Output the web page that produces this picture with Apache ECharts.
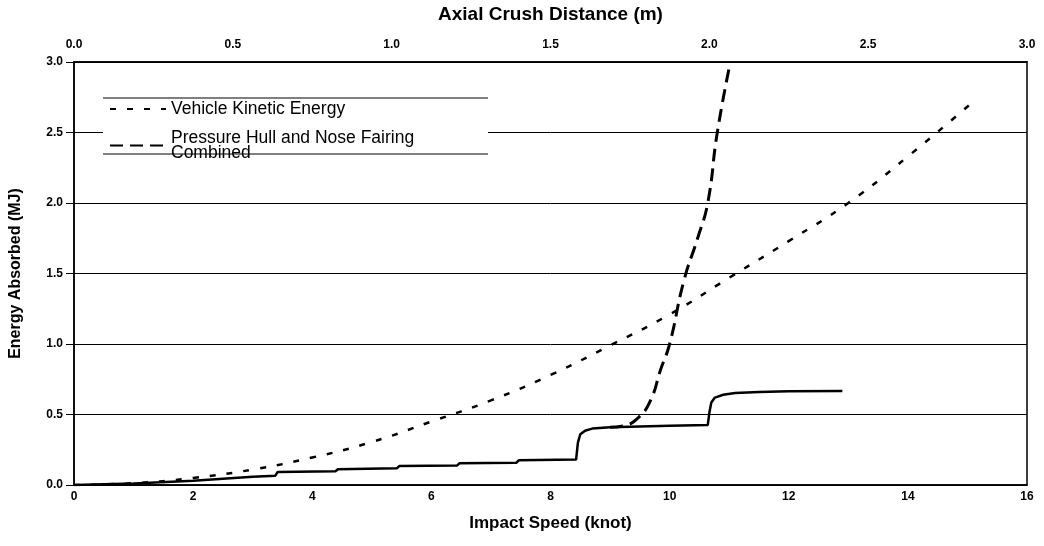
<!DOCTYPE html>
<html>
<head>
<meta charset="utf-8">
<script src="https://cdn.jsdelivr.net/npm/echarts@6/dist/echarts.min.js"></script>
<style>
  html, body { margin: 0; padding: 0; background: #fff; }
  #chart { width: 1044px; height: 546px; }
</style>
</head>
<body>
<div id="chart"></div>
<script>
// vehicle kinetic energy vs impact speed
const keSpeed = [0, 1, 2, 3, 4, 5, 6, 7, 8, 9, 10, 11, 12, 13, 14, 15.1];
const keEnergy = [0, 0.013, 0.05, 0.11, 0.195, 0.305, 0.45, 0.6, 0.78, 0.99, 1.21, 1.47, 1.73, 2.0, 2.33, 2.72];

// pressure hull alone (stepped solid line)
const hullSpeed = [0, 1, 2, 3, 3.38, 3.42, 4.39, 4.43, 5.42, 5.46, 6.43, 6.47, 7.43, 7.47, 8.43, 8.46,
  8.5, 8.58, 8.7, 9.0, 9.5, 10.0, 10.64, 10.67, 10.7, 10.76, 10.9, 11.1, 11.5, 12.0, 12.9];
const hullEnergy = [0, 0.01, 0.03, 0.058, 0.066, 0.093, 0.098, 0.112, 0.118, 0.134, 0.138, 0.154, 0.158, 0.176, 0.18, 0.3,
  0.36, 0.385, 0.4, 0.41, 0.415, 0.42, 0.425, 0.52, 0.585, 0.62, 0.64, 0.652, 0.66, 0.665, 0.667];

// pressure hull and nose fairing combined (departs from the hull curve)
const combSpeed = [9.0, 9.23, 9.48, 9.68, 9.85, 10.0, 10.24, 10.47, 10.64, 10.8, 11.02];
const combEnergy = [0.41, 0.42, 0.48, 0.6, 0.82, 1.0, 1.45, 1.75, 2.0, 2.5, 3.0];

const speedTicks = [0, 16, 2];
const crushTicks = [0, 3, 0.5];
const energyTicks = [0, 3, 0.5];

const pairs = (xs, ys) => xs.map((x, i) => [x, ys[i]]);

const chart = echarts.init(document.getElementById('chart'));
const font = 'Liberation Sans, Arial, sans-serif';
const tickLabel = { color: '#000', fontFamily: font, fontWeight: 'bold', fontSize: 12 };
const axisTitle = { color: '#000', fontFamily: font, fontWeight: 'bold', fontSize: 17 };

chart.setOption({
  backgroundColor: '#fff',
  animation: false,
  grid: { left: 72, right: 17, top: 62, bottom: 61, show: true, borderColor: '#000', borderWidth: 1.5 },
  xAxis: [
    {
      type: 'value', min: speedTicks[0], max: speedTicks[1], interval: speedTicks[2],
      name: 'Impact Speed (knot)', nameLocation: 'middle', nameGap: 30, nameTextStyle: axisTitle,
      axisLine: { lineStyle: { color: '#000', width: 1.5 } },
      axisTick: { show: false },
      axisLabel: { ...tickLabel, margin: 6 },
      splitLine: { show: false }
    },
    {
      type: 'value', position: 'top', min: crushTicks[0], max: crushTicks[1], interval: crushTicks[2],
      name: 'Axial Crush Distance (m)', nameLocation: 'middle', nameGap: 38,
      nameTextStyle: { ...axisTitle, fontSize: 19 },
      axisLine: { lineStyle: { color: '#000', width: 1.5 } },
      axisTick: { show: false },
      axisLabel: { ...tickLabel, margin: 11, formatter: v => v.toFixed(1) },
      splitLine: { show: false }
    }
  ],
  yAxis: {
    type: 'value', min: energyTicks[0], max: energyTicks[1], interval: energyTicks[2],
    name: 'Energy Absorbed (MJ)', nameLocation: 'middle', nameGap: 50,
    nameTextStyle: { ...axisTitle, fontSize: 16 },
    axisLine: { lineStyle: { color: '#000', width: 1.5 } },
    axisTick: { show: true, length: 8, lineStyle: { color: '#000' } },
    axisLabel: { ...tickLabel, margin: 11, formatter: v => v.toFixed(1) },
    splitLine: { lineStyle: { color: '#000', width: 1 } }
  },
  legend: {
    left: 103, top: 99, orient: 'vertical', itemGap: 11,
    padding: [1, 6, 4, 6],
    itemWidth: 56, itemHeight: 10,
    itemStyle: { opacity: 0 },
    textStyle: { color: '#000', fontFamily: font, fontSize: 17.5, lineHeight: 15 },
    data: ['Vehicle Kinetic Energy', 'Pressure Hull and Nose Fairing\nCombined']
  },
  graphic: [
    { type: 'rect', z: 1, shape: { x: 103, y: 98, width: 385, height: 55 }, style: { fill: '#fff' } },
    { type: 'line', z: 100, shape: { x1: 103, y1: 98, x2: 488, y2: 98 }, style: { stroke: '#000', lineWidth: 1 } },
    { type: 'line', z: 100, shape: { x1: 103, y1: 154, x2: 488, y2: 154 }, style: { stroke: '#000', lineWidth: 1 } }
  ],
  series: [
    {
      name: 'Vehicle Kinetic Energy', type: 'line', smooth: true, showSymbol: false, symbol: 'none',
      data: pairs(keSpeed, keEnergy),
      lineStyle: { color: '#000', width: 2.5, type: [6, 11] }, itemStyle: { color: '#000' }
    },
    {
      name: 'Pressure Hull and Nose Fairing\nCombined', type: 'line', smooth: true, showSymbol: false, symbol: 'none',
      data: pairs(combSpeed, combEnergy),
      lineStyle: { color: '#000', width: 3, type: [13, 7] }, itemStyle: { color: '#000' }
    },
    {
      name: 'Pressure Hull', type: 'line', showSymbol: false, symbol: 'none',
      data: pairs(hullSpeed, hullEnergy),
      lineStyle: { color: '#000', width: 2.5 }, itemStyle: { color: '#000' }
    }
  ]
});
</script>
</body>
</html>
